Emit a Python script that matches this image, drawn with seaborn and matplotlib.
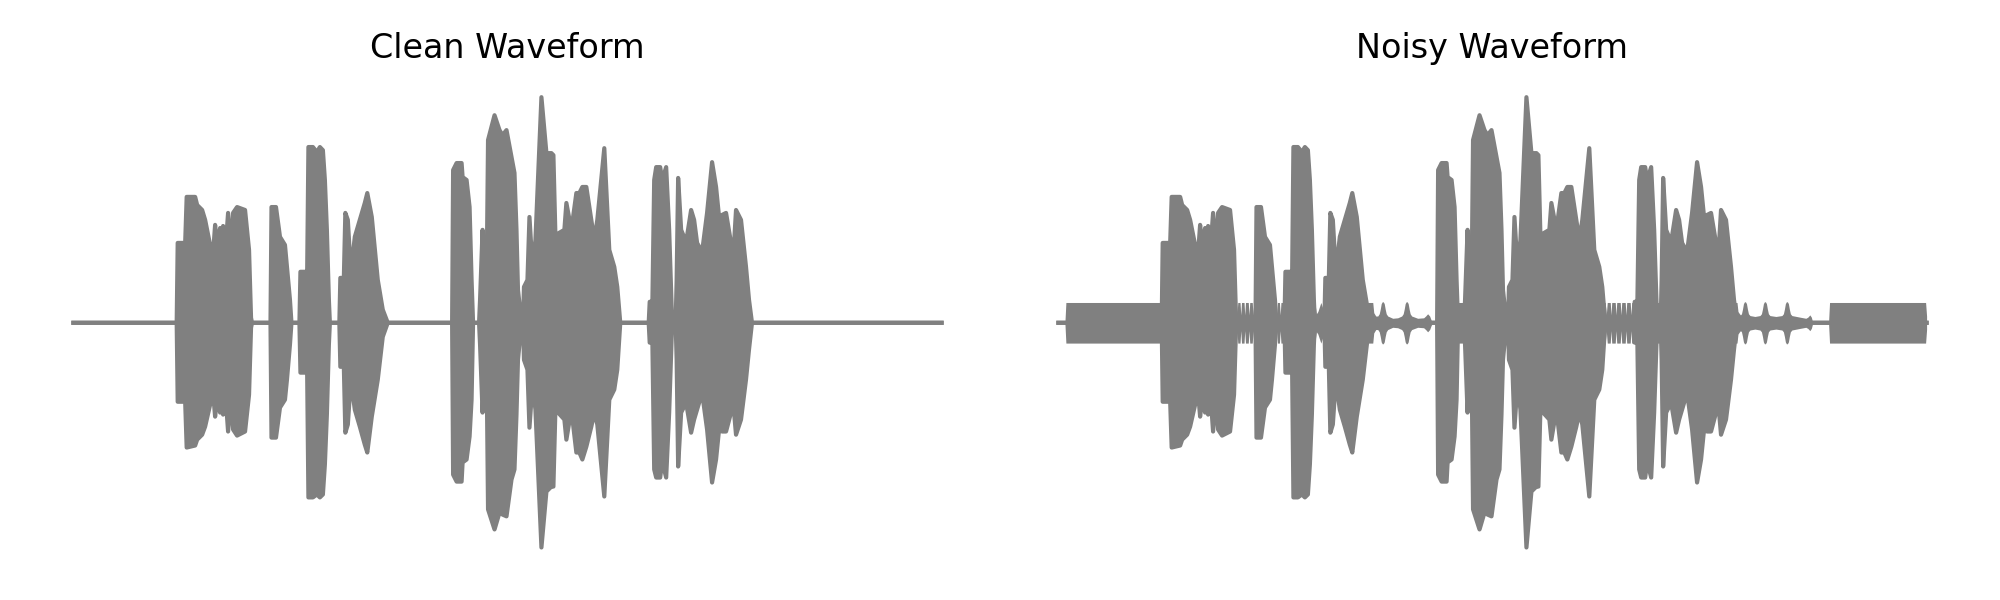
import matplotlib
matplotlib.use('Agg')
import matplotlib.pyplot as plt
import seaborn as sns

# Envelope of the speech signal (time in s, normalised amplitude),
# read off the reference plot, one row per burst
time_s = [
    0.000, 0.414, 0.418, 0.448, 0.454, 0.488, 0.496, 0.516, 0.528, 0.548, 0.560, 0.568, 0.576,
    0.588, 0.596, 0.600, 0.608, 0.620, 0.632, 0.640, 0.656, 0.688, 0.704, 0.712, 0.716,
    0.790, 0.794, 0.812, 0.828, 0.848, 0.856, 0.868, 0.874,
    0.906, 0.910, 0.928, 0.936, 0.942, 0.960, 0.976, 0.988, 1.000, 1.008, 1.016, 1.024, 1.028,
    1.066, 1.070, 1.084, 1.090, 1.100, 1.108, 1.120, 1.128, 1.148, 1.168, 1.178, 1.196, 1.220, 1.240, 1.260,
    1.518, 1.522, 1.536, 1.556, 1.560, 1.576, 1.588, 1.596, 1.602,
    1.626, 1.630, 1.640, 1.648, 1.656, 1.662, 1.688, 1.708, 1.720, 1.736, 1.756, 1.768, 1.776, 1.782, 1.796,
    1.802, 1.806, 1.820, 1.828, 1.840, 1.852, 1.876, 1.896, 1.916, 1.924, 1.932, 1.968, 1.976,
    1.996, 2.016, 2.028, 2.040, 2.056, 2.076, 2.088, 2.100, 2.128, 2.148, 2.168, 2.180, 2.192,
    2.306, 2.310, 2.316, 2.320, 2.328, 2.336, 2.352, 2.360, 2.376, 2.388, 2.400,
    2.414, 2.418, 2.424, 2.436, 2.456, 2.476, 2.488, 2.500, 2.520, 2.540, 2.560, 2.576,
    2.588, 2.600, 2.616, 2.636, 2.642, 2.656, 2.676, 2.696, 2.708, 2.720, 3.480,
]
clean_upper = [
    0, 0, 0.354, 0.354, 0.558, 0.558, 0.522, 0.500, 0.456, 0.345, 0.310, 0.434, 0.345,
    0.420, 0.345, 0.429, 0.301, 0.487, 0.314, 0.487, 0.513, 0.500, 0.323, 0.022, 0,
    0, 0.513, 0.513, 0.381, 0.345, 0.248, 0.102, 0,
    0, 0.226, 0.226, 0.115, 0.779, 0.779, 0.757, 0.779, 0.765, 0.633, 0.412, 0.102, 0,
    0, 0.199, 0.199, 0.487, 0.456, 0.301, 0.301, 0.381, 0.456, 0.531, 0.575, 0.469, 0.190, 0.058, 0,
    0, 0.677, 0.708, 0.708, 0.646, 0.633, 0.513, 0.190, 0,
    0, 0.102, 0.412, 0.190, 0.146, 0.810, 0.920, 0.854, 0.832, 0.854, 0.735, 0.664, 0.412, 0.146, 0,
    0, 0.159, 0.190, 0.469, 0.248, 0.367, 1.000, 0.752, 0.752, 0.743, 0.389, 0.412, 0.531,
    0.412, 0.575, 0.575, 0.602, 0.602, 0.456, 0.367, 0.456, 0.774, 0.323, 0.248, 0.159, 0,
    0, 0.093, 0.093, 0.035, 0.633, 0.690, 0.690, 0.633, 0.690, 0.412, 0,
    0, 0.190, 0.642, 0.412, 0.358, 0.500, 0.456, 0.354, 0.314, 0.487, 0.712, 0.602,
    0.469, 0.478, 0.487, 0.354, 0.235, 0.500, 0.456, 0.248, 0.102, 0, 0,
]
clean_lower = [
    0, 0, -0.350, -0.350, -0.553, -0.544, -0.518, -0.496, -0.460, -0.363, -0.310, -0.416, -0.341,
    -0.398, -0.350, -0.407, -0.296, -0.482, -0.319, -0.473, -0.500, -0.482, -0.319, -0.022, 0,
    0, -0.509, -0.509, -0.376, -0.341, -0.252, -0.097, 0,
    0, -0.221, -0.221, -0.119, -0.774, -0.774, -0.761, -0.774, -0.761, -0.628, -0.407, -0.097, 0,
    0, -0.195, -0.195, -0.487, -0.451, -0.319, -0.319, -0.385, -0.460, -0.540, -0.575, -0.416, -0.252, -0.062, 0,
    0, -0.673, -0.704, -0.704, -0.619, -0.606, -0.504, -0.341, 0,
    0, -0.097, -0.398, -0.208, -0.164, -0.827, -0.916, -0.841, -0.850, -0.858, -0.695, -0.650, -0.407, -0.164, 0,
    0, -0.164, -0.208, -0.465, -0.274, -0.385, -0.996, -0.748, -0.726, -0.726, -0.385, -0.429, -0.518,
    -0.385, -0.575, -0.575, -0.606, -0.549, -0.460, -0.398, -0.451, -0.770, -0.341, -0.296, -0.208, 0,
    0, -0.088, -0.088, -0.031, -0.650, -0.686, -0.686, -0.615, -0.686, -0.398, 0,
    0, -0.164, -0.637, -0.398, -0.354, -0.487, -0.429, -0.385, -0.310, -0.473, -0.708, -0.606,
    -0.473, -0.482, -0.482, -0.398, -0.319, -0.496, -0.429, -0.252, -0.119, 0, 0,
]

# Added noise envelope (symmetric) for the noisy version
noise_time = [
    0.000, 0.026, 0.030, 0.713, 0.716, 0.719, 0.728, 0.731, 0.734, 0.744, 0.747, 0.750,
    0.761, 0.764, 0.767, 0.777, 0.780, 0.783, 0.792,
    0.872, 0.875, 0.878, 0.886, 0.889, 0.892, 0.903, 0.906, 0.909,
    1.028, 1.034, 1.040, 1.046, 1.052, 1.058, 1.064, 1.068, 1.072,
    1.260, 1.264, 1.272, 1.280, 1.286, 1.290, 1.294, 1.298, 1.302, 1.306, 1.310, 1.314,
    1.320, 1.340, 1.360, 1.376, 1.382, 1.386, 1.390, 1.394, 1.398, 1.402, 1.406, 1.410,
    1.416, 1.440, 1.464, 1.472, 1.480, 1.488, 1.494, 1.500, 1.518, 1.522,
    2.192, 2.196, 2.200, 2.212, 2.215, 2.218, 2.232, 2.235, 2.238, 2.252, 2.255, 2.258,
    2.272, 2.275, 2.278, 2.292, 2.295, 2.298, 2.304,
    2.720, 2.724, 2.730, 2.734, 2.738, 2.742, 2.746, 2.750, 2.754, 2.758, 2.762, 2.766,
    2.772, 2.792, 2.812, 2.818, 2.822, 2.826, 2.830, 2.834, 2.838, 2.842, 2.846,
    2.852, 2.876, 2.900, 2.906, 2.910, 2.914, 2.918, 2.922, 2.926, 2.930, 2.934,
    2.940, 2.972, 2.996, 3.004, 3.012, 3.018, 3.024, 3.087, 3.091, 3.476, 3.480,
]
noise_amp = [
    0, 0, 0.09, 0.09, 0.035, 0.09, 0.09, 0.035, 0.09, 0.09, 0.035, 0.09,
    0.09, 0.035, 0.09, 0.09, 0.035, 0.09, 0.09,
    0.09, 0.035, 0.09, 0.09, 0.035, 0.09, 0.09, 0.035, 0.09,
    0.09, 0.04, 0.05, 0.07, 0.09, 0.07, 0.05, 0.04, 0.09,
    0.09, 0.045, 0.03, 0.03, 0.04, 0.06, 0.085, 0.093, 0.093, 0.085, 0.06, 0.04,
    0.03, 0.02, 0.022, 0.03, 0.04, 0.06, 0.085, 0.093, 0.093, 0.085, 0.06, 0.04,
    0.03, 0.02, 0.022, 0.03, 0.04, 0.03, 0.012, 0, 0, 0.09,
    0.09, 0.035, 0.09, 0.09, 0.035, 0.09, 0.09, 0.035, 0.09, 0.09, 0.035, 0.09,
    0.09, 0.035, 0.09, 0.09, 0.035, 0.09, 0.09,
    0.09, 0.05, 0.04, 0.035, 0.04, 0.06, 0.085, 0.093, 0.093, 0.085, 0.06, 0.04,
    0.032, 0.028, 0.032, 0.04, 0.06, 0.085, 0.093, 0.093, 0.085, 0.06, 0.04,
    0.032, 0.028, 0.032, 0.04, 0.06, 0.085, 0.093, 0.093, 0.085, 0.06, 0.04,
    0.032, 0.025, 0.02, 0.025, 0.035, 0.025, 0, 0, 0.09, 0.09, 0.03,
]

titles = ['Clean Waveform', 'Noisy Waveform']
wave_color = 'gray'


def draw_speech(ax):
    ax.fill_between(time_s, clean_lower, clean_upper, color=wave_color, linewidth=0)
    # outline gives the line thickness of the plotted samples
    sns.lineplot(x=time_s, y=clean_upper, ax=ax, color=wave_color, linewidth=1.5,
                 estimator=None, sort=False)
    sns.lineplot(x=time_s, y=clean_lower, ax=ax, color=wave_color, linewidth=1.5,
                 estimator=None, sort=False)


fig, axes = plt.subplots(1, 2, figsize=(10, 3))

draw_speech(axes[0])

draw_speech(axes[1])
axes[1].fill_between(noise_time, [-a for a in noise_amp], noise_amp,
                     color=wave_color, linewidth=0)

for ax, title in zip(axes, titles):
    ax.set_title(title)
    ax.axis('off')

plt.tight_layout()
plt.savefig('out.png', dpi=200)
